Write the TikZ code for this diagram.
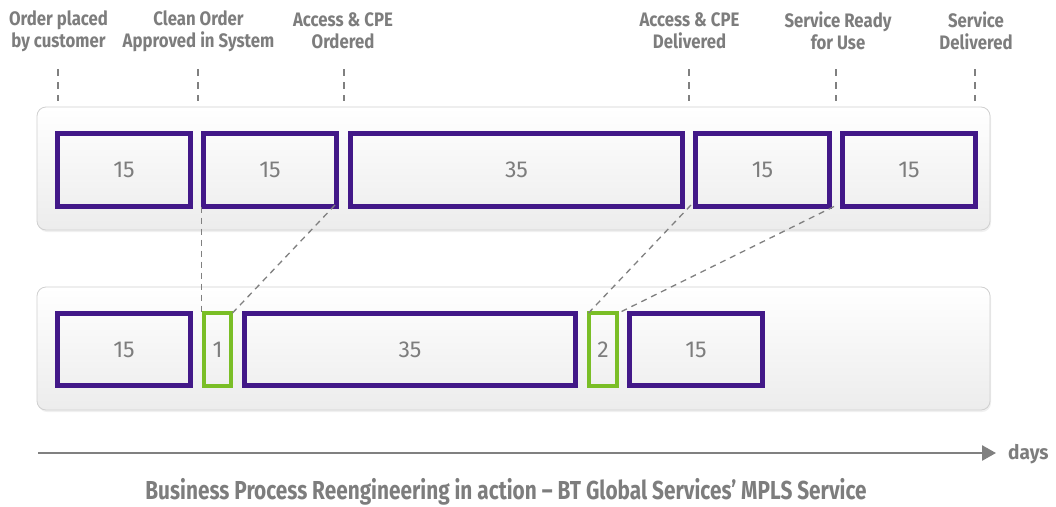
\documentclass[tikz,border=0pt]{standalone}
\usepackage{fontspec}
\setmainfont{Fira Sans}
\usetikzlibrary{arrows.meta,shadows}
\definecolor{btpurple}{RGB}{66,24,136}
\definecolor{btgreen}{RGB}{122,190,38}
\definecolor{txtgray}{RGB}{125,125,125}
\definecolor{dashgray}{RGB}{128,128,128}
\definecolor{panelborder}{RGB}{208,208,208}
\newcommand{\sq}[1]{\scalebox{0.86}[1]{#1}}
\tikzset{
  panel/.style={rounded corners=9pt, draw=panelborder, line width=0.8pt,
    top color=white, bottom color={rgb,255:red,236;green,236;blue,236},
    drop shadow={opacity=0.12, shadow xshift=1pt, shadow yshift=-2pt}},
  pbox/.style={draw=btpurple, line width=5pt, fill=none, inner sep=0pt,
    minimum height=73pt, text=txtgray, font=\fontsize{23}{26}\selectfont},
  gbox/.style={pbox, draw=btgreen, line width=4pt},
  tick/.style={draw=dashgray, line width=1.3pt, dash pattern=on 7pt off 6pt},
  link/.style={draw=dashgray, line width=1.3pt, dash pattern=on 6pt off 5pt},
  lbl/.style={align=center, text=txtgray, inner sep=0pt,
    font=\fontsize{19.5}{22}\selectfont\bfseries},
}
\begin{document}
\begin{tikzpicture}[x=1pt,y=-1pt]
\useasboundingbox (0,0) rectangle (1056,506);
% panels
\path[panel] (37,107) rectangle (990,230);
\path[panel] (37,287) rectangle (990,410);
% top row
\node[pbox, minimum width=133pt] (t1) at (124,170) {15};
\node[pbox, minimum width=133pt] (t2) at (270,170) {15};
\node[pbox, minimum width=332pt] (t3) at (516.5,170) {35};
\node[pbox, minimum width=134pt] (t4) at (762.5,170) {15};
\node[pbox, minimum width=133pt] (t5) at (909,170) {15};
% bottom row
\node[pbox, minimum width=133pt, minimum height=72pt] (b1) at (124,349.5) {15};
\node[gbox, minimum width=27pt, minimum height=73pt] (g1) at (217.5,349.5) {1};
\node[pbox, minimum width=331pt, minimum height=72pt] (b3) at (410,349.5) {35};
\node[gbox, minimum width=28pt, minimum height=73pt] (g2) at (603,349.5) {2};
\node[pbox, minimum width=133pt, minimum height=72pt] (b5) at (696,349.5) {15};
% milestone labels
\node[lbl] (l1) at (58.5,31) {\sq{Order placed}\\\sq{by customer}};
\node[lbl] (l2) at (198.5,31) {\sq{Clean Order}\\\sq{Approved in System}};
\node[lbl] (l3) at (343,31) {\sq{Access \& CPE}\\\sq{Ordered}};
\node[lbl] (l4) at (689.5,31) {\sq{Access \& CPE}\\\sq{Delivered}};
\node[lbl] (l5) at (838,31) {\sq{Service Ready}\\\sq{for Use}};
\node[lbl] (l6) at (976,31) {\sq{Service}\\\sq{Delivered}};
% tick marks
\coordinate (k1a) at (58,69);  \coordinate (k1b) at (58,101);
\coordinate (k2a) at (198,69); \coordinate (k2b) at (198,101);
\coordinate (k3a) at (344,69); \coordinate (k3b) at (344,101);
\coordinate (k4a) at (689,69); \coordinate (k4b) at (689,101);
\coordinate (k5a) at (836,69); \coordinate (k5b) at (836,101);
\coordinate (k6a) at (975,69); \coordinate (k6b) at (975,101);
\draw[tick] (k1a) -- (k1b);
\draw[tick] (k2a) -- (k2b);
\draw[tick] (k3a) -- (k3b);
\draw[tick] (k4a) -- (k4b);
\draw[tick] (k5a) -- (k5b);
\draw[tick] (k6a) -- (k6b);
% links
\draw[link] ([xshift=0.5pt,yshift=2.5pt]t2.south west) -- ([xshift=-0.5pt,yshift=-2pt]g1.north west);
\draw[link] ([xshift=-4pt,yshift=4pt]t2.south east) -- ([xshift=-0.5pt,yshift=-2pt]g1.north east);
\draw[link] ([xshift=-2pt,yshift=4pt]t4.south west) -- ([xshift=1.5pt,yshift=-2pt]g2.north west);
\draw[link] ([xshift=-6pt,yshift=2.5pt]t5.south west) -- ([xshift=-0.5pt,yshift=-2pt]g2.north east);
% axis
\coordinate (ax0) at (38,453);
\node[lbl, anchor=base west, font=\fontsize{20}{22}\selectfont\bfseries] (days) at (1008,459) {\scalebox{0.95}[1]{days}};
\draw[draw=dashgray, line width=2.6pt, -{Triangle[length=14pt,width=15pt]}] (ax0) -- (996,453);
% caption
\node[lbl, anchor=base, font=\fontsize{26}{30}\selectfont\bfseries] (cap) at (506,499)
  {\scalebox{0.8}[1]{Business Process Reengineering in action -- BT Global Services’ MPLS Service}};
\end{tikzpicture}
\end{document}
